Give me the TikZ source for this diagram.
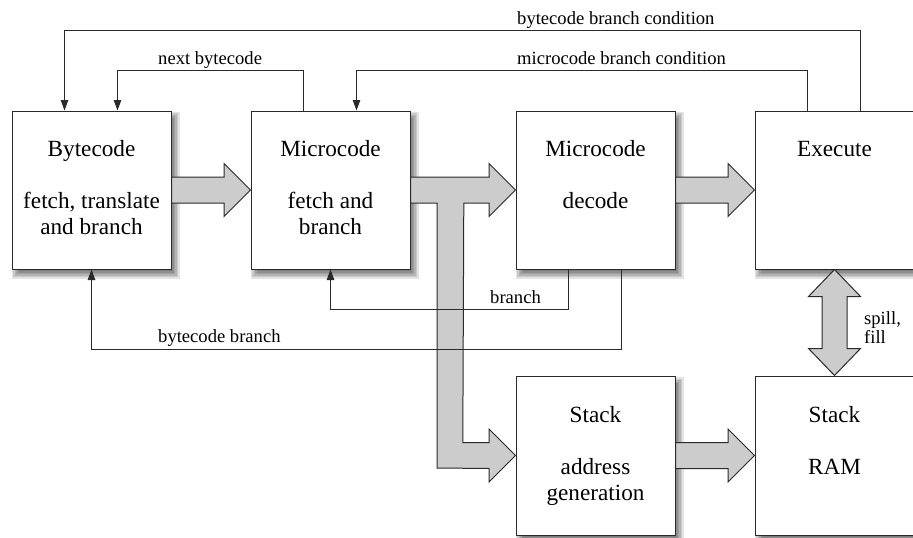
\documentclass[tikz,border=0pt]{standalone}
\usepackage{fontspec}
\setmainfont{Liberation Serif}
\usetikzlibrary{arrows.meta,calc}
\definecolor{fatgray}{HTML}{CCCCCC}
\definecolor{linec}{HTML}{2A2A2A}
\tikzset{
  blockbox/.style={draw=linec, line width=1pt, fill=white, rectangle, inner sep=0pt,
    minimum width=159pt, minimum height=158pt},
  maintext/.style={font=\fontsize{23.2}{26}\selectfont, anchor=base, inner sep=0pt},
  smalltext/.style={font=\fontsize{18.6}{19}\selectfont, anchor=base west, inner sep=0pt},
  fatarrow/.style={draw=linec, line width=1pt, fill=fatgray, line join=miter},
  sigline/.style={draw=linec, line width=1pt, -{Triangle[length=10.5pt,width=7.5pt]}},
}
\begin{document}
\begin{tikzpicture}[x=1pt,y=-1pt]
\useasboundingbox (0,0) rectangle (913,538);
\clip (0,0) rectangle (913,538);
% shadows
\foreach \cx/\cy in {91.5/190, 330.5/190, 595.5/190, 834.5/190, 595.5/455.5, 834.5/455.5}{
  \foreach \e in {-3,-1.5,0,1.5,3,4.5}{
    \fill[black, opacity=0.11] (\cx-79.5+4-\e, \cy-79+5-\e) rectangle (\cx+79.5+4+\e, \cy+79+5+\e);
  }
}
% blocks
\node[blockbox] (b1) at (91.5,190) {};
\node[blockbox] (b2) at (330.5,190) {};
\node[blockbox] (b3) at (595.5,190) {};
\node[blockbox] (b4) at (834.5,190) {};
\node[blockbox, minimum height=159pt] (b5) at (595.5,455.5) {};
\node[blockbox, minimum height=159pt] (b6) at (834.5,455.5) {};
% block texts
\node[maintext] (t1a) at (91.5,156) {Bytecode};
\node[maintext] (t1b) at (91.5,208) {fetch, translate};
\node[maintext] (t1c) at (91.5,234) {and branch};
\node[maintext] (t2a) at (330.5,156) {Microcode};
\node[maintext] (t2b) at (330.5,208) {fetch and};
\node[maintext] (t2c) at (330.5,234) {branch};
\node[maintext] (t3a) at (595.5,156) {Microcode};
\node[maintext] (t3b) at (595.5,208) {decode};
\node[maintext] (t4a) at (834.5,156) {Execute};
\node[maintext] (t5a) at (595.5,422) {Stack};
\node[maintext] (t5b) at (595.5,474) {address};
\node[maintext] (t5c) at (595.5,500) {generation};
\node[maintext] (t6a) at (834.5,422) {Stack};
\node[maintext] (t6b) at (834.5,474) {RAM};
% fat arrows
\draw[fatarrow] ($(b1.east)+(0,-13)$) -- ($(b2.west)+(-26.5,-13)$) -- ($(b2.west)+(-26.5,-26.5)$)
  -- (b2.west) -- ($(b2.west)+(-26.5,26.5)$) -- ($(b2.west)+(-26.5,13)$) -- ($(b1.east)+(0,13)$) -- cycle;
\draw[fatarrow] ($(b3.east)+(0,-13)$) -- ($(b4.west)+(-26.5,-13)$) -- ($(b4.west)+(-26.5,-26.5)$)
  -- (b4.west) -- ($(b4.west)+(-26.5,26.5)$) -- ($(b4.west)+(-26.5,13)$) -- ($(b3.east)+(0,13)$) -- cycle;
\draw[fatarrow] ($(b5.east)+(0,-13)$) -- ($(b6.west)+(-26.5,-13)$) -- ($(b6.west)+(-26.5,-26.5)$)
  -- (b6.west) -- ($(b6.west)+(-26.5,26.5)$) -- ($(b6.west)+(-26.5,13)$) -- ($(b5.east)+(0,13)$) -- cycle;
\draw[fatarrow] ($(b2.east)+(0,-13)$) -- ($(b3.west)+(-26.5,-13)$) -- ($(b3.west)+(-26.5,-26.5)$)
  -- (b3.west) -- ($(b3.west)+(-26.5,26.5)$) -- ($(b3.west)+(-26.5,13)$)
  -- ($(b2.east)+(53.3,13)$) -- ($(b5.west)+(-52.7,-13)$)
  -- ($(b5.west)+(-26.5,-13)$) -- ($(b5.west)+(-26.5,-26.5)$)
  -- (b5.west) -- ($(b5.west)+(-26.5,26.5)$) -- ($(b5.west)+(-26.5,13)$)
  -- ($(b2.east)+(26.7,278)$) -- ($(b2.east)+(26.7,13)$) -- ($(b2.east)+(0,13)$) -- cycle;
\draw[fatarrow] (b4.south) -- ($(b4.south)+(26,27)$) -- ($(b4.south)+(12.5,27)$)
  -- ($(b6.north)+(12.5,-27)$) -- ($(b6.north)+(26,-27)$) -- (b6.north)
  -- ($(b6.north)+(-26,-27)$) -- ($(b6.north)+(-12.5,-27)$)
  -- ($(b4.south)+(-12.5,27)$) -- ($(b4.south)+(-26,27)$) -- cycle;
% signal lines
\coordinate (c1) at ($(b4.north west)+(106,-80)$);
\coordinate (c2) at ($(b4.north west)+(53,-40)$);
\coordinate (c3) at ($(b2.north west)+(53,-40)$);
\coordinate (c4) at ($(b3.south west)+(53,40)$);
\coordinate (c5) at ($(b3.south west)+(106,80)$);
\draw[sigline] ($(b4.north west)+(106,0)$) -- (c1) -| ($(b1.north west)+(53,0)$);
\draw[sigline] ($(b4.north west)+(53,0)$) -- (c2) -| ($(b2.north west)+(106,0)$);
\draw[sigline] ($(b2.north west)+(53,0)$) -- (c3) -| ($(b1.north west)+(106,0)$);
\draw[sigline] ($(b3.south west)+(53,0)$) -- (c4) -| (b2.south);
\draw[sigline] ($(b3.south west)+(106,0)$) -- (c5) -| (b1.south);
% labels
\node[smalltext] (l1) at (517,24) {bytecode branch condition};
\node[smalltext] (l2) at (517,64) {microcode branch condition};
\node[smalltext] (l3) at (158,64) {next bytecode};
\node[smalltext] (l4) at (490,303) {branch};
\node[smalltext] (l5) at (158,342) {bytecode branch};
\node[smalltext] (l6) at (864,324) {spill,};
\node[smalltext] (l7) at (864,343) {fill};
\end{tikzpicture}
\end{document}
